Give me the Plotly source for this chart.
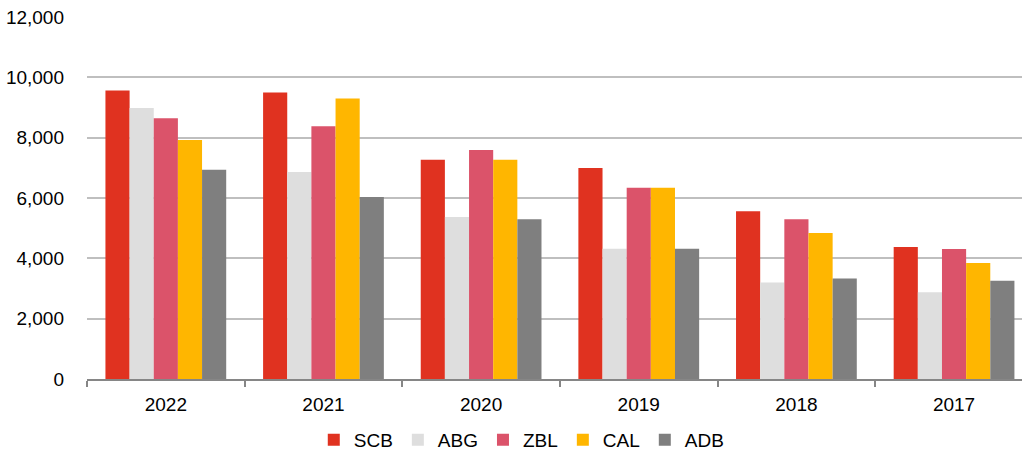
import plotly.graph_objects as go

years = ["2022", "2021", "2020", "2019", "2018", "2017"]
scb = [9560, 9500, 7265, 6995, 5560, 4375]
abg = [8980, 6865, 5370, 4320, 3195, 2875]
zbl = [8645, 8380, 7595, 6340, 5295, 4310]
cal = [7925, 9300, 7265, 6340, 4840, 3845]
adb = [6940, 6035, 5295, 4320, 3335, 3260]

series = [("SCB", scb, "#E03220"), ("ABG", abg, "#DEDEDE"), ("ZBL", zbl, "#DB536A"),
          ("CAL", cal, "#FFB600"), ("ADB", adb, "#7F7F7F")]

fig = go.Figure()
for name, vals, col in series:
    fig.add_trace(go.Bar(x=years, y=vals, name=name, marker=dict(color=col, line=dict(width=0))))

font = "Liberation Sans, Arial, sans-serif"
fig.update_layout(
    width=1022, height=455,
    margin=dict(l=87, r=0, t=17, b=76, autoexpand=False),
    paper_bgcolor="white", plot_bgcolor="white",
    barmode="group", bargap=0.234, bargroupgap=0,
    font=dict(family=font, size=19, color="#000000"),
    showlegend=True,
    legend=dict(orientation="h", x=0.465, xanchor="center", yref="container", y=0.033, yanchor="middle",
                font=dict(size=19), itemwidth=30, traceorder="normal", tracegroupgap=0),
)
fig.update_xaxes(type="category", range=[-0.5, 5.431], showline=True, linecolor="#868686", linewidth=1.5,
                 ticks="outside", tickson="boundaries", ticklen=6, tickcolor="#868686", tickwidth=1.5,
                 showgrid=False, tickfont=dict(size=19), ticklabelstandoff=7)
fig.update_yaxes(range=[0, 12000], dtick=2000, tickformat=",d", showgrid=True, gridcolor="#BFBFBF",
                 gridwidth=1.5, zeroline=False, showline=False, ticks="", ticklabelstandoff=22,
                 tickfont=dict(size=19))

fig.write_html("out.html")
